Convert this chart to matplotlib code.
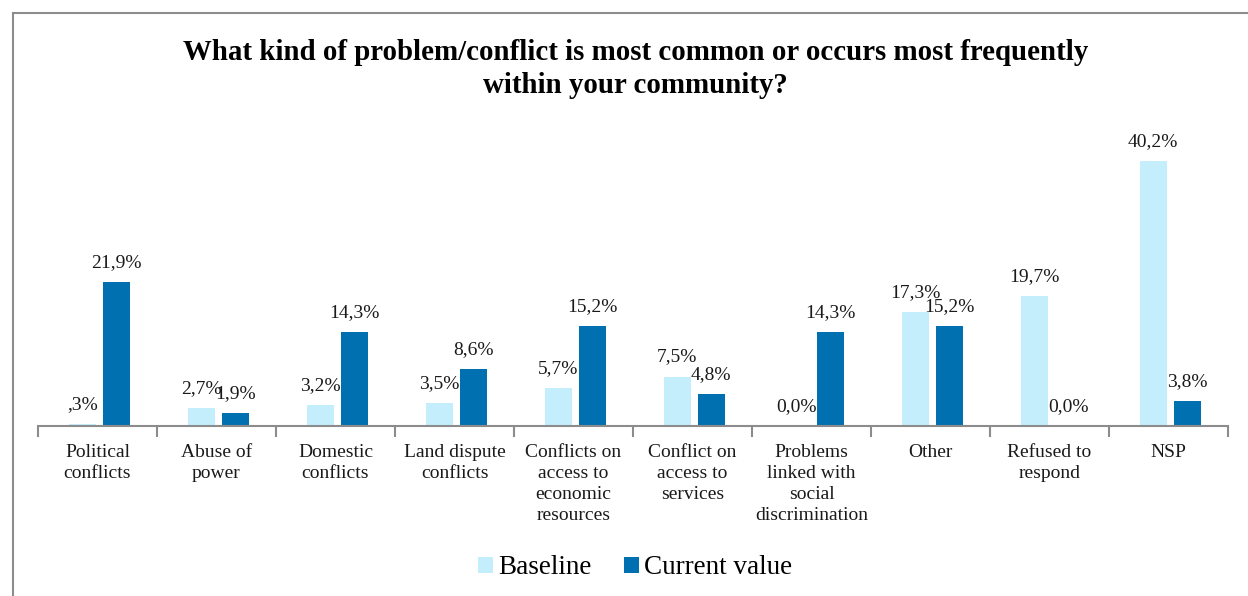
import matplotlib
matplotlib.use("Agg")
import matplotlib.pyplot as plt
from matplotlib.lines import Line2D
import numpy as np

categories = ["Political\nconflicts", "Abuse of\npower", "Domestic\nconflicts",
              "Land dispute\nconflicts", "Conflicts on\naccess to\neconomic\nresources",
              "Conflict on\naccess to\nservices", "Problems\nlinked with\nsocial\ndiscrimination",
              "Other", "Refused to\nrespond", "NSP"]
baseline = [0.3, 2.7, 3.2, 3.5, 5.7, 7.5, 0.0, 17.3, 19.7, 40.2]
current = [21.9, 1.9, 14.3, 8.6, 15.2, 4.8, 14.3, 15.2, 0.0, 3.8]
baseline_labels = [",3%", "2,7%", "3,2%", "3,5%", "5,7%", "7,5%", "0,0%", "17,3%", "19,7%", "40,2%"]
current_labels = ["21,9%", "1,9%", "14,3%", "8,6%", "15,2%", "4,8%", "14,3%", "15,2%", "0,0%", "3,8%"]
series_names = ["Baseline", "Current value"]
title = "What kind of problem/conflict is most common or occurs most frequently\nwithin your community?"

light = "#C4EEFC"
dark = "#0070B0"
serif = ["Liberation Serif", "DejaVu Serif"]

W, H = 1248, 596
fig = plt.figure(figsize=(W / 100, H / 100), dpi=100)
fig.patch.set_facecolor("white")

# outer frame (top and left visible)
fig.add_artist(Line2D([13 / W, 1.0], [1 - 13 / H, 1 - 13 / H], color="#8c8c8c", lw=1.5))
fig.add_artist(Line2D([13 / W, 13 / W], [0, 1 - 13 / H], color="#8c8c8c", lw=1.5))

left, right, bottom_px = 38, 1228, 426
ymax = 45.0
scale = 6.59
top_px = bottom_px - ymax * scale
ax = fig.add_axes([left / W, (H - bottom_px) / H, (right - left) / W, (bottom_px - top_px) / H])

x = np.arange(len(categories))
bw = 0.227
off = 0.143
shift = 0.015
b1 = ax.bar(x - off + shift, baseline, bw, color=light, label=series_names[0])
b2 = ax.bar(x + off + shift, current, bw, color=dark, label=series_names[1])

gap = 15 / scale
for xi, v, lab in zip(x - off + shift, baseline, baseline_labels):
    ax.text(xi, v + gap, lab, ha="center", va="baseline", fontsize=14, family=serif, color="#1a1a1a")
for xi, v, lab in zip(x + off + shift, current, current_labels):
    ax.text(xi, v + gap, lab, ha="center", va="baseline", fontsize=14, family=serif, color="#1a1a1a")

ax.set_xlim(-0.5, len(categories) - 0.5)
ax.set_ylim(0, ymax)
for s in ["top", "right", "left"]:
    ax.spines[s].set_visible(False)
ax.spines["bottom"].set_color("#8c8c8c")
ax.spines["bottom"].set_linewidth(1.5)
ax.set_yticks([])
ax.set_xticks(x)
ax.set_xticklabels(categories, family=serif, fontsize=14, linespacing=1.3, va="top", color="#1a1a1a")
ax.tick_params(axis="x", which="major", length=0, pad=13)
ax.set_xticks(np.arange(-0.5, len(categories)), minor=True)
ax.tick_params(axis="x", which="minor", length=8, width=1.5, color="#8c8c8c", direction="out")

fig.text(0.509, 1 - 69 / H, title, ha="center", va="center", fontsize=20.8, fontweight="bold",
         family=serif, linespacing=1.3)

leg = fig.legend(handles=[b1, b2], labels=series_names, loc="center", bbox_to_anchor=(0.509, 1 - 568 / H),
                 ncol=2, frameon=False, prop={"family": serif, "size": 19.5},
                 handlelength=0.55, handleheight=0.55, handletextpad=0.2, columnspacing=1.2)

fig.savefig("out.png", dpi=100)
